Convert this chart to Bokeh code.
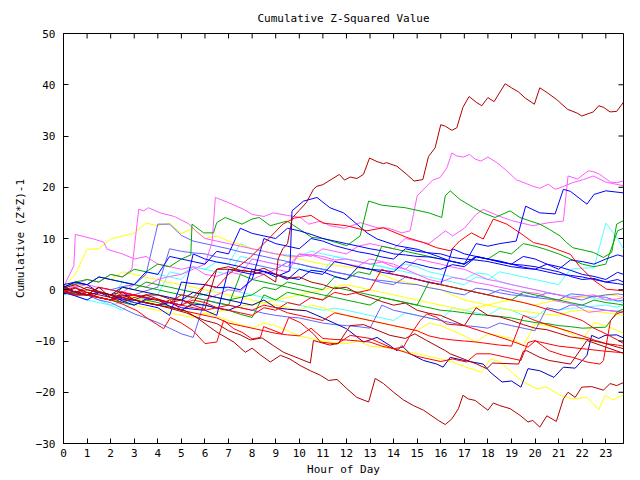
from bokeh.plotting import figure
from bokeh.models import Range1d, FixedTicker
from bokeh.embed import file_html
from bokeh.resources import INLINE

x_ticks = list(range(0, 24))
y_ticks = [-30, -20, -10, 0, 10, 20, 30, 40, 50]
x_lim = [0, 23.75]
y_lim = [-30, 50]

# common half-hour grid used by most series
HH = [0,0.5,1,1.5,2,2.5,3,3.5,4,4.5,5,5.5,6,6.5,7,7.5,8,8.5,9,9.5,10,10.5,11,11.5,
      12,12.5,13,13.5,14,14.5,15,15.5,16,16.5,17,17.5,18,18.5,19,19.5,20,20.5,21,21.5,
      22,22.5,23,23.5,23.75]

# ---- dark red series ----
dr1_h = [0,0.5,1,1.5,2,2.5,3,3.5,4,4.5,5,5.5,6,6.5,7,8,8.5,9,9.1,9.3,9.5,9.7,10,10.3,10.6,10.75,11,11.7,11.92,12.16,12.44,12.72,12.98,13.3,13.57,13.7,14.14,14.56,14.87,15.24,15.48,15.76,16.0,16.2,16.47,16.68,16.94,17.2,17.5,17.74,18.0,18.26,18.73,19.0,19.3,19.58,19.97,20.2,20.5,20.92,21.38,21.77,21.98,22.47,22.7,22.9,23.18,23.46,23.75]
dr1_v = [0.5,-0.5,0.5,-0.3,-1,-1.6,-2,-1,-1,-1.8,-2,-2.6,1,4,4,3.5,3,1.5,6,8,9,14,15.5,17,19.6,20.2,20.5,22.5,21.4,22,21.7,22.5,25.7,25,24.6,24.8,24.1,22.5,21.2,21.5,26,27.7,32.2,31.9,31.1,31.6,35.6,37.7,36.6,35.9,37.5,36.7,40.2,39.4,38.6,37.4,36.2,39.4,38.5,37.1,35.2,34.5,33.9,34.7,35.9,35.6,34.7,34.8,36.6]

dr2_h = [0,0.5,1,1.5,2,2.5,3,3.5,4,4.5,5.17,5.73,6.51,7.22,7.71,8.0,8.35,8.77,9.2,9.6,10.04,10.47,10.9,11.24,11.6,12.02,12.44,12.94,13.22,13.57,14.0,14.42,14.84,15.27,15.9,16.19,16.47,16.75,16.94,17.17,17.46,17.74,18.0,18.23,18.5,18.94,19.36,19.7,19.9,20.2,20.5,20.9,21.2,21.4,21.7,21.98,22.4,22.9,23.18,23.46,23.75]
dr2_v = [-0.5,0.3,-0.5,-1,-1.5,-1,-2,-2.5,-3,-3.4,-4.1,-5.7,-8.3,-10.2,-12.2,-11.4,-12.7,-14.1,-12.8,-13.5,-14.8,-15.8,-16.7,-17.7,-17.5,-19.3,-21,-21.9,-17.3,-18.3,-20,-21.5,-22.6,-23.5,-25.5,-26.3,-25.2,-23.2,-20.6,-21.3,-21.6,-22.6,-23.5,-22.1,-22.6,-23.2,-24.5,-25.8,-25.5,-26.8,-24.6,-25.7,-21.3,-20,-21,-19,-18.9,-19.6,-18.3,-18.7,-18.1]

dr3_h = [0,0.5,1,1.5,2,2.5,3,3.5,4,4.5,5.2,6,6.5,7,7.5,7.92,8.42,8.9,9.33,10.47,10.6,11.3,11.67,12.16,12.72,13.85,14.5,14.9,15.4,16.2,16.4,17.53,17.95,18.2,19.3,19.5,19.65,20.2,20.6,21.5,22.2,23,23.75]
dr3_v = [0.3,1,0,-0.5,-1,-0.4,-2,-2.5,-3,-3.6,-4.5,-6,-6.6,-8,-8.8,-9.8,-9.4,-10.9,-12.2,-14.3,-9.9,-10.8,-10.4,-7,-6.8,-8.9,-9.5,-8.6,-9.9,-11.9,-12.5,-14.5,-15.4,-14.3,-14.5,-12,-11.9,-13.2,-13.8,-14.5,-9.9,-11.2,-12.4]

dr4_v = [0.5,-0.5,-1,0.5,-1.5,-2.5,-1.5,-1,-1.8,-2.5,-2,-3,-3.8,4,4.5,3.8,3.5,4.2,3,2.2,2.5,1.5,1,0.2,0.5,-0.8,-1.5,-2.3,-3,-2.6,-4,-4.6,-5,-6,-7,-3.5,-5,-5.3,-6,-6.8,-7.5,-7.8,-8.5,-9.2,-9.5,-10,-10.5,-11.2,-11.5]

# ---- magenta series ----
ma_h = [0,0.5,1,1.5,2,2.5,3,3.5,4,4.5,5,5.5,6,6.3,6.44,7,7.64,8,8.5,8.9,9.5,10.04,10.4,10.9,11.3,11.9,12.6,13.3,13.8,14.35,14.7,14.84,15,15.27,15.66,15.97,16.26,16.47,16.68,16.97,17.22,17.46,17.7,18.0,18.38,18.8,19.22,19.36,19.9,20.2,20.56,20.85,21.06,21.6,22.05,22.47,23,23.75]
ma_v = [-0.5,0.5,1,0.4,0,-0.5,1,0.5,2,2.6,3,4,5,9.2,18,17,15.7,14.7,14.3,15,14.5,14.1,12.8,13.4,12.5,12,13.1,12.1,12,11.1,11.5,14.7,18.3,19.6,21.4,21.9,23.8,26.7,26.1,25.9,26.4,25.5,25.1,25.9,24.8,23.2,21.4,21.2,20.2,19.8,20.6,19.6,19.9,20.9,21.5,22.2,21,20.3]

mb_h = [0,0.44,0.5,1.28,1.7,1.85,2.5,3,3.5,4,4.5,5,5.5,6,6.5,7,7.5,8,8.5,9,9.5,10,10.5,11,11.5,12,12.5,13,13.5,14,14.5,15,15.5,16.2,16.5,17,17.5,17.8,18.45,19,19.9,20.6,21.2,21.4,21.8,22.26,22.5,22.75,23.2,23.46,23.75]
mb_v = [0.5,4.7,10.8,9.9,9.3,7.9,7,6,6.5,5,4.5,4,4.5,3,2.6,3.5,3,6,5.5,5,4.5,7,6.5,8,7.5,7,8.5,9,8.5,8,10,9.5,9,11.5,10.5,12,14.7,15.7,14.4,13.5,12.5,13.1,13.4,22.2,21.6,23.2,23,22.5,21,20.9,21.2]

md_h = [0,0.5,1,1.5,2,2.5,2.9,3.19,3.4,3.6,4.1,4.7,5.3,5.6,6,6.5,7,7.5,8,8.5,9,9.5,10,10.5,11,11.5,12,12.5,13,13.5,14,14.5,15,15.5,16,16.5,17,17.5,18,18.5,19,19.5,20.2,20.8,21.6,22.26,23,23.75]
md_v = [-0.3,1,2,1.5,3,2.5,4,15.7,15.4,16,15,14.3,12.9,11.5,10,9.5,9,8.5,8,7.5,7,6.6,6.5,6.8,6,5.5,5,4.6,6,5.5,5,4,3,2,1.5,2.4,2,1.4,1,0.5,0,-0.4,-0.8,-2.1,-2.8,-4.4,-4,-4.5]

me_v = [-0.5,0.8,-1,-1.6,-2,-0.8,-1,-1.8,-2,-2.6,-3,-1.5,-2,-1,0,-0.3,2,3,4,3.5,7,6.8,6.5,5.8,6,5.5,5,5.4,4.5,4,6,5.5,5,4.4,4,3,2,1.6,1,0.5,0,-0.5,-1,-1.5,-1.2,-1,-2,-1.8,-1.5]

# ---- blue series ----
bt_h = [0,0.5,1,1.5,2,2.5,3,3.5,4,4.5,5,5.5,6,6.5,7,7.5,8,8.5,9,9.6,9.69,10.18,10.75,11.3,11.88,12.44,12.87,13.3,14.14,15,15.83,16.4,17,17.5,18,18.5,19.2,19.6,20.2,20.85,21.2,21.5,22.2,22.5,23,23.75]
bt_v = [-0.8,-0.3,-1,-0.5,-1.5,-2,-2,-2.6,-3,-2.5,-3.5,-3.8,-4,-5,4,3.5,3,3.6,2.5,3.7,15.4,17.3,18,16,15,12.8,11.1,9.9,8.6,7.9,6.6,5.6,5,9,8.5,9,9.5,16.3,15,14.8,19.6,19.2,16.7,18.6,19.3,18.9]

b2_v = [0.8,-0.5,-1,-1.5,-2,-1.2,-1,-1.6,-2,-2.5,-3,7,6,5.4,5,4.5,4,3.6,3,2,4,3.4,3,5.5,5,4.4,4,3.8,3.5,5.5,5,4.4,4,4.9,4.5,6.4,6,5.6,5,6.5,6,5,4,5.8,5.5,5,6,6.8,6.5]
b3_v = [1,1.5,1,-0.5,-1,-1.8,-2.5,-3,-3.5,-5,1.5,1.2,1,0.4,0.5,0,2,10,9,8.5,8,10,9.5,8.6,8,7.4,7,6.4,6,8,7.5,7.2,7,6.3,6,5.8,5.5,5,4.5,4.2,4,5,4.5,3.8,3,2.6,2,3.4,3]

b4_h = [0,0.5,1,1.5,2,2.5,3,3.5,4,4.5,5,5.5,6,6.5,7,7.5,8,8.5,9,9.5,10.3,11,12,12.73,13.3,13.85,14.14,14.35,14.7,15.27,15.83,16.1,16.4,17,17.8,18.1,18.6,19.0,19.4,19.7,20.2,20.8,21.2,21.7,22.2,22.4,22.7,22.97,23.46,23.75]
b4_v = [-0.6,-1,-1,-0.5,-1,0.5,0,-0.5,-1,-1.5,-2,-0.5,-1,-1.5,-2,-2.5,-3,-2,-3.5,-3.8,-4.1,-5.5,-7.6,-10.2,-9.3,-10.9,-11.9,-10.9,-12.5,-13.8,-14.5,-15.1,-13.2,-13.8,-14.5,-16.1,-18,-17.8,-19,-15.4,-15.8,-17.1,-15.1,-15.3,-12.8,-8.9,-9.5,-8.9,-8.8,-9.4]

b5_v = [-0.5,-1.2,-2,-0.6,-1,-2.2,-3,-1.8,-2,-3.2,-4,-2.8,-3,-3.6,-4,-3,4,3.5,3,2.4,2,3.8,3.5,2.6,2,4.5,4,3.4,3,2.6,2,1.4,1,8,7,6.5,6,5.5,5,4.4,4,3.5,3,2.8,2.5,2,1.5,2,1.5]
b6_v = [0.5,1.5,1,2.5,2,1.5,1,3.5,3,6.5,6,5.5,5,7.5,7,12,11,10.5,10,12,11.5,10.8,10,9.5,9,8.5,8,7.6,7,6.8,6.5,6.4,6,5.5,5,6.5,6,5.4,5,4.8,4.5,4,3.5,2.6,2,2.2,1.5,1.2,1]

# ---- slate blue series ----
s1_v = [-0.5,-0.3,-1,-1.5,-2,-0.8,-1,-0.2,0.5,8,7.5,7.2,7,6.4,6,5.5,5,4.5,4,5.4,5,4.4,4,3.5,3,2.5,2,1.8,1.5,1.2,1,0.4,0,-0.6,-1,0.3,0,-0.6,-1,-1.2,-1.5,-0.6,-1,-1.6,-2,-1.2,-1.5,-2.2,-2]
s2_v = [0.3,-0.6,-1,0.4,0,0.6,1,3,12.8,12.8,10.6,9.5,9,8.5,8,7.4,7,6.5,6,5.5,5,4.5,4,3.4,3,2.5,2,1.4,1,2.5,2,1.5,1,0.5,0,-0.5,-1,0,-0.5,-1,-1.5,-1.8,-2,-0.8,-1,-1.4,-1,-0.8,-1]
s3_v = [-0.8,-0.5,-1,-2,-2.5,-3.6,-4.7,-5.5,-6.4,-7.5,-8.6,-9.3,-2,-2.6,-3,-3.5,-4,-4.6,-5,-5.3,-5.5,-6,-6.5,-6.8,-7,-7.2,-7.5,-3,-4,-4.5,-5,-5.5,-6,-6.5,-7,-7.2,-7.5,-6.5,-7,-7.5,-8,-3.5,-4,-3,-3,-3.6,-4,-4.2,-4.5]

# ---- cyan series ----
c1_v = [0.5,-0.4,-1,-1.5,-2,1.5,1,3.5,3,2.5,2,4.5,4,3.5,3,6.5,6,5.5,5,4.5,4,3.8,3.5,6.5,6,5.5,5,4.5,4,3.5,3,2.5,2,1.5,1,2.5,2,3.5,3,2.5,2,1.5,1,4,4.2,4.3,13,10,7.9]
c2_v = [-0.5,-1.2,-2,-2.5,-3,-2.4,-2,-1.4,-1,3.5,3,4.5,4,5.5,5,9,8,7.5,7,6.8,6.5,7.5,7,6.5,6,5.5,5,4.5,4,5,4.5,3.5,3,2.5,2,3.3,3,1.5,1,0.5,0,-0.5,-1,-1.2,-1.5,-1.6,-2,-2.2,-2.5]
c3_v = [-1,-0.6,-1,-2,-3,-4,-2,-1.6,-1,-1.5,-2,-1.2,-1,0.5,0,-0.5,-1,-1.5,-2,-2.5,-3,-3.5,-4,-3.6,-4,-4.5,-5,-5.5,-6,-4.5,-5,-5.5,-6,-3.5,-4,-4.5,-5,-3.6,-4,-5,-5.5,-3.6,-4,-3.6,-3.5,-3.2,-3,-3.4,-3]

# ---- yellow series ----
y1_h = [0,0.5,1,1.5,2,2.5,3,3.5,4,4.5,5,5.5,6,6.5,7,7.5,8,8.5,9,9.5,10,10.5,11,11.5,12,12.5,13,13.5,14,14.5,15,15.5,16,16.5,17,17.74,18.1,18.5,19.08,19.5,20.07,20.5,21.06,21.6,22.2,22.7,22.97,23.3,23.75]
y1_v = [0.3,-0.5,-1,-1.5,-2,-1.2,-3,-3.5,-4,-4.5,-5,-5.4,-4.5,-5.2,-6,-6.8,-7.5,-6.5,-7,-8,-9,-9.5,-10,-10.3,-10.5,-10,-11,-11.2,-11.5,-12,-12.5,-13,-13.5,-14.1,-15,-16.1,-13.5,-14,-16.4,-18,-19.3,-19,-20.6,-21.3,-21,-23.4,-20.6,-21.5,-20.5]
y2_v = [0.5,1.5,1,2.5,2,3.5,3,2.4,2,1.4,1,0.5,0,-0.5,-1,-1.5,-2,-2.5,-3,-3.5,-4,-3,-3.5,-4.4,-5,-5.6,-6,-6.5,-7,-7.5,-8,-6.5,-7,-8,-9,-10.2,-8.6,-9,-9.5,-10.9,-6.7,-7,-7.5,-8.5,-9.9,-6.4,-7,-8,-8.6]
y3_v = [0.5,3,7.9,8,9.9,10.5,11,13,12.5,13,11,12,10,10.5,9.5,8.8,8,7.5,7,6.5,6,5.5,5,4.8,4.5,4.2,4,3,2,1.5,1,0.5,0,-1,-2,-2.5,-3,-3.5,-4,-4.2,-4.5,-4.8,-5,-4.2,-4,-4.2,-4.5,-4.8,-5]
y4_v = [-0.5,-1,-1,-1.5,-2,-1,-1.5,-2.2,-3,-3.5,-4,-4.5,-5,-4.2,-4,-3.2,-3,-2.5,-2,-1.5,-1,-0.5,0,0.6,1,0.5,0,-0.5,-1,-1.5,-2,-2.5,-3,-3.5,-4,-3.4,-3,-2.4,-2,-2.5,-3,-2.4,-2,-1.8,-1.5,-1.2,-1,-1.2,-1.5]

# ---- red series ----
r1_h = [0,0.5,1,1.5,2,2.5,3.12,3.6,4.25,4.53,5,5.5,6,6.5,6.79,7.22,7.57,8,8.35,8.49,9.27,9.55,10.04,10.6,10.9,11.6,12.16,13,14,14.42,14.7,15.13,15.41,15.83,16.26,17,18,19,19.7,20,21,22,23,23.75]
r1_v = [0,-1,-0.5,-1.5,-2,-2.8,-4.1,-5.7,-7.6,-5.4,-6.5,-8,-10.5,-10.2,-6,-7.6,-8.3,-9.6,-9.3,-7.2,-8.6,-5.4,-6.4,-8.6,-10.2,-10.6,-8.9,-9.5,-11.5,-11.2,-8.9,-6,-4.7,-5.4,-6.7,-7,-8.5,-10,-11.2,-10,-11,-11.5,-12,-12.3]

r2_h = [0,0.5,1,1.5,2,2.5,3,3.5,4,4.5,5,5.5,6,6.5,7,7.5,8,8.5,9,9.5,10,10.5,11,11.5,12,12.5,13,13.5,14,14.5,15,15.5,16,16.5,17.1,17.5,18.1,18.8,19.4,19.7,20,20.6,21.2,21.6,22.2,22.75,22.9,23.2,23.46,23.75]
r2_v = [0.5,-0.5,0,-0.5,-1,-1.5,-2,-2.5,-3,-2,-4,-4.5,-5,-5.5,-6.5,-7,-7.5,-8,-8.5,-8.8,-9,-7.5,-9.5,-9.7,-9.8,-10,-10.2,-11,-11.5,-12.2,-13,-13.5,-14,-13.5,-14.1,-12.5,-12.5,-13.2,-13.8,-10.3,-9.9,-11.9,-12.8,-13.2,-14.1,-14.5,-13.8,-6,-4.7,-4.2]

r3_v = [0.5,-0.5,-1,-1.5,-2,-1.5,-1,-1.5,-2,-2.5,-3,-3.5,-4,-3.5,-3,-3.5,-4,-3,-3.5,-4.5,-5,-5.5,-6,-4.5,-5,-5.5,-6,-6.5,-7,-7.5,-8,-9,-9.5,-9.8,-10,-10.2,-10.5,-10.8,-11,-5,-6,-6.8,-7.5,-8.2,-9,-9.8,-10.5,-10.8,-11]

r4_h = [0,0.5,1,1.5,2,2.5,3,3.5,4,4.5,5,5.5,6,6.5,7,7.92,8.5,9.3,9.8,10.5,11,12,12.87,13.57,14.56,15.27,15.83,16.4,16.8,17.3,17.8,18.23,18.8,19.36,19.93,20.5,21.5,21.9,22.5,23.04,23.75]
r4_v = [-0.3,0.5,-1,-1.5,-2,-0.5,-1,-1.5,-2,-2.5,-1,-1.5,1,0.5,3,6.3,9,12.8,14,14.5,13,12.5,11.5,12.1,10.2,9.2,8.2,7.6,9.5,11.1,9.9,13.8,12.8,11.1,9.2,8.6,6.9,4.5,1.8,0.1,-0.2]

r5_v = [-0.5,-1,-1,0.5,0,-0.5,-1,-1.5,-2,-2.5,-3,-2,-2.5,-3.5,-4,-4.5,-5,-3.5,-4,-2.5,-3,-1.5,-2,-0.5,-1,-0.5,0,4,3,2.5,2,1.5,1,0.5,0,-0.5,-1,-1.5,-2,-2.5,-3.1,-3.8,-4.5,-5.2,-6,-7.5,-8.6,-9.8,-10.5]

# ---- green series ----
g1_h = [0,0.5,1,1.5,2,2.5,3,3.5,4,4.5,5,5.4,5.45,5.94,6.36,6.5,6.86,7.57,8,8.3,8.77,9.48,10.54,11,12.02,12.58,12.94,13.5,14.5,15.5,16.04,16.19,16.4,16.82,17.4,17.8,18.3,18.6,18.94,19.36,19.8,20.2,20.6,21.06,21.34,21.6,22.47,22.9,23.25,23.46,23.75]
g1_v = [0.5,1.5,2,1.5,3,2.5,4,3.5,5,4.5,6,6.8,12.8,11.1,11.1,13.1,14.1,12.8,13.8,14.1,12.5,13.4,10.2,10,8.6,10.5,17.3,16.5,16,15,14.1,18.3,19.3,17.6,16,15,14.1,14.7,15.4,14.1,13.4,12.8,11.8,10.5,9.2,8.2,7.3,6.3,7.3,12.8,13.5]
g2_v = [0.5,1.2,1,2.5,2,1.5,1,0.5,0,-0.5,-1,-1.5,-2,-2.5,-3,3,2,1.5,1,0.5,0,-0.5,-1,-1.5,-2,-2.5,-3,-1.5,-2,-2.5,-3,-3.5,-4,-4.2,-4.5,-4.8,-5,-5.2,-5.5,-6,-6.4,-6.6,-7,-7.2,-7.5,-7.4,-7.3,-4.2,-3.8]
g3_v = [-0.5,-0.8,-1,-1.5,-2,0.5,0,1.5,1,0.5,0,-0.5,-1,-1.5,-2,-1.5,-1,0.5,0,1.5,1,0.5,0,2.5,2,3.5,3,8.5,8,7.5,7,6.5,6,5.5,5,6.5,6,7.5,7,9,8.5,7.8,7,6,5,4.5,5,11.5,12]
g4_v = [-0.5,-0.8,-1,-1.5,-2,-2.5,-3,-2,-2.5,-3.2,-4,-2.5,-3,-3.5,-4,-4.8,-5.4,-1,-2,-0.5,-1,-1.5,-2,0.5,0,-0.5,-1,-1.5,-2,-2.5,-3,1.5,1,0.5,0,-0.5,-1,-1.5,-2,-0.5,-1,-1.5,-2,-2.5,-3,-2,-2.5,-2.8,-3]

DR = "#b00000"; R = "#ff0000"; G = "#00a800"; B = "#0000ff"; BD = "#0000b4"
S = "#6464ff"; M = "#ff5cff"; C = "#50ffff"; Y = "#ffff00"

series = [
    (HH, c1_v, C), (HH, c2_v, C), (HH, c3_v, C),
    (y1_h, y1_v, Y), (HH, y2_v, Y), (HH, y3_v, Y), (HH, y4_v, Y),
    (HH, s1_v, S), (HH, s2_v, S), (HH, s3_v, S),
    (ma_h, ma_v, M), (mb_h, mb_v, M), (md_h, md_v, M), (HH, me_v, M),
    (g1_h, g1_v, G), (HH, g2_v, G), (HH, g3_v, G), (HH, g4_v, G),
    (bt_h, bt_v, B), (HH, b2_v, B), (HH, b3_v, B), (b4_h, b4_v, BD),
    (HH, b5_v, B), (HH, b6_v, B),
    (r1_h, r1_v, R), (r2_h, r2_v, R), (HH, r3_v, R), (r4_h, r4_v, R), (HH, r5_v, R),
    (dr3_h, dr3_v, DR), (HH, dr4_v, DR), (dr2_h, dr2_v, DR), (dr1_h, dr1_v, DR),
]

FONT = "DejaVu Sans Mono"
FS = "11px"
W, H = 640, 480
BL, BR, BT, BB = 63, 17, 32, 37
TICK_PX = 5

p = figure(width=W, height=H, output_backend="svg", toolbar_location=None,
           x_range=Range1d(*x_lim), y_range=Range1d(*y_lim),
           min_border_left=BL, min_border_right=BR, min_border_top=BT,
           min_border_bottom=BB, title="Cumulative Z-Squared Value")
p.title.align = "center"
p.title.text_font = FONT
p.title.text_font_size = FS
p.title.text_font_style = "normal"
p.title.text_color = "black"
p.title.standoff = 18
p.background_fill_color = "white"
p.border_fill_color = "white"
p.outline_line_color = "black"
p.outline_line_width = 1
p.grid.visible = False

for h, v, col in series:
    n = min(len(h), len(v))
    p.line(h[:n], v[:n], line_color=col, line_width=1)

# inward tick marks on the top and right edges of the frame, drawn as short lines
dy = TICK_PX * (y_lim[1] - y_lim[0]) / (H - BT - BB)
dx = TICK_PX * (x_lim[1] - x_lim[0]) / (W - BL - BR)
for t in x_ticks:
    p.line([t, t], [y_lim[1] - 0.02, y_lim[1] - dy], line_color="black", line_width=1)
for t in y_ticks:
    p.line([x_lim[1] - 0.005, x_lim[1] - dx], [t, t], line_color="black", line_width=1)

bottom = p.below[0]
left = p.left[0]
bottom.ticker = FixedTicker(ticks=x_ticks)
left.ticker = FixedTicker(ticks=y_ticks)
bottom.axis_label = "Hour of Day"
left.axis_label = "Cumulative (Z*Z)-1"

for ax in [bottom, left]:
    ax.major_tick_in = TICK_PX
    ax.major_tick_out = 0
    ax.minor_tick_line_color = None
    ax.axis_line_color = "black"
    ax.major_tick_line_color = "black"
    ax.major_label_text_font = FONT
    ax.major_label_text_font_size = FS
    ax.major_label_text_color = "black"
    ax.axis_label_text_font = FONT
    ax.axis_label_text_font_size = FS
    ax.axis_label_text_font_style = "normal"
    ax.axis_label_text_color = "black"
bottom.major_label_standoff = 5
bottom.axis_label_standoff = 3
left.major_label_standoff = 8
left.axis_label_standoff = 6

open("out.html", "w").write(file_html(p, INLINE))
